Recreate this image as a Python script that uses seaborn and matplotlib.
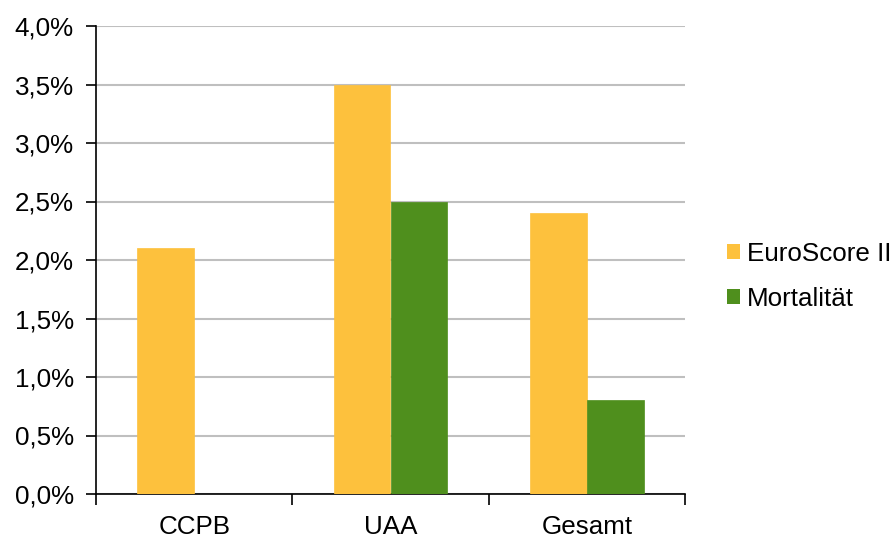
import matplotlib
matplotlib.use("Agg")
import matplotlib.pyplot as plt
import seaborn as sns
import pandas as pd
from matplotlib.ticker import FuncFormatter, FixedLocator, NullFormatter
from matplotlib.patches import Patch

categories = ["CCPB", "UAA", "Gesamt"]
euroscore = [2.1, 3.5, 2.4]
mortalitaet = [0.0, 2.5, 0.8]
series_names = ["EuroScore II", "Mortalität"]
colors = ["#FDC13D", "#4F8F1D"]
yticks = [0.0, 0.5, 1.0, 1.5, 2.0, 2.5, 3.0, 3.5, 4.0]

df = pd.DataFrame({
    "Gruppe": categories * 2,
    "Serie": [series_names[0]] * 3 + [series_names[1]] * 3,
    "Wert": euroscore + mortalitaet,
})

sns.set_theme(style="white")
plt.rcParams["font.family"] = ["Liberation Sans", "DejaVu Sans"]
plt.rcParams["text.color"] = "black"
FS = 18.7

fig = plt.figure(figsize=(8.96, 5.38), dpi=100)
ax = fig.add_axes([96 / 896, 44 / 538, 589 / 896, 468 / 538])

sns.barplot(data=df, x="Gruppe", y="Wert", hue="Serie", order=categories,
            hue_order=series_names, palette=colors, width=0.58,
            saturation=1, legend=False, ax=ax, zorder=3)
for p in ax.patches:
    p.set_edgecolor(p.get_facecolor())
    p.set_linewidth(0.5)

ax.set_xlim(-0.5, 2.5)
ax.set_ylim(0, 4.0)
ax.set_yticks(yticks)
ax.yaxis.set_major_formatter(FuncFormatter(lambda v, _: f"{v:.1f}%".replace(".", ",")))
ax.yaxis.grid(True, color="#BFBFBF", linewidth=1.5, zorder=0)
ax.set_axisbelow(True)

# category labels centred, tick marks at the category boundaries
ax.set_xticks([0, 1, 2])
ax.set_xticklabels(categories)
ax.tick_params(axis="x", length=0, pad=15, labelsize=FS, colors="black")
ax.xaxis.set_minor_locator(FixedLocator([-0.5, 0.5, 1.5, 2.5]))
ax.xaxis.set_minor_formatter(NullFormatter())
ax.tick_params(axis="x", which="minor", length=8, width=1.2, color="black", direction="out", bottom=True)
ax.tick_params(axis="y", length=7, width=1.2, color="black", direction="out", left=True,
               labelsize=FS, pad=9, labelcolor="black")

for side in ["top", "right"]:
    ax.spines[side].set_visible(False)
for side in ["left", "bottom"]:
    ax.spines[side].set_color("black")
    ax.spines[side].set_linewidth(1.2)

ax.set_xlabel("")
ax.set_ylabel("")

handles = [Patch(facecolor=c, edgecolor="none", label=n) for c, n in zip(colors, series_names)]
fig.legend(handles=handles, loc="center left", bbox_to_anchor=(727 / 896, 1 - 276.5 / 538),
           frameon=False, fontsize=FS, handlelength=0.5, handleheight=0.5,
           handletextpad=0.27, labelspacing=0.8, borderpad=0, borderaxespad=0,
           labelcolor="black")

fig.savefig("out.png", dpi=100, facecolor="white")
